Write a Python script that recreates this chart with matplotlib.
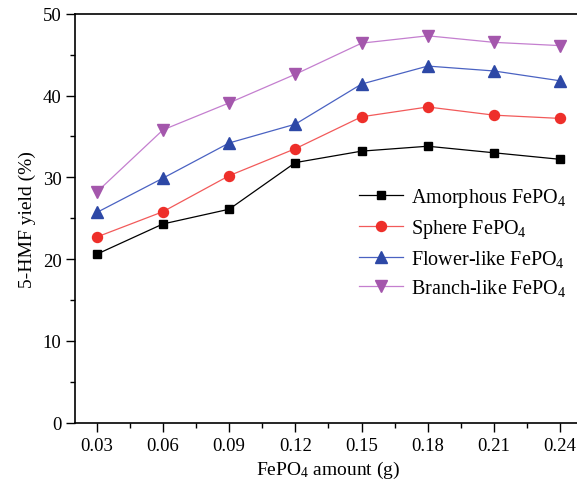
import numpy as np
import matplotlib.pyplot as plt
from matplotlib.ticker import MultipleLocator

# data
amount = [0.03, 0.06, 0.09, 0.12, 0.15, 0.18, 0.21, 0.24]
amorphous = [20.6, 24.3, 26.1, 31.8, 33.2, 33.8, 33.0, 32.2]
sphere = [22.7, 25.8, 30.2, 33.5, 37.4, 38.6, 37.6, 37.2]
flower = [25.7, 29.9, 34.2, 36.5, 41.4, 43.6, 43.0, 41.8]
branch = [28.2, 35.8, 39.1, 42.6, 46.4, 47.3, 46.5, 46.1]
labels = ['Amorphous FePO$_4$', 'Sphere FePO$_4$', 'Flower-like FePO$_4$', 'Branch-like FePO$_4$']

plt.rcParams['font.family'] = 'Liberation Serif'
plt.rcParams['mathtext.fontset'] = 'custom'
plt.rcParams['mathtext.rm'] = 'Liberation Serif'
plt.rcParams['mathtext.it'] = 'Liberation Serif:italic'
plt.rcParams['font.size'] = 14

fig = plt.figure(figsize=(5.77, 4.81), dpi=100)
ax = fig.add_axes([0.1295, 0.1191, 0.8795, 0.8503])

ax.plot(amount, amorphous, color='black', linewidth=0.9, marker='s', markersize=6.3,
        markerfacecolor='black', markeredgecolor='black', label=labels[0])
ax.plot(amount, sphere, color='#f25a5a', linewidth=0.9, marker='o', markersize=7.2,
        markerfacecolor='#ee2f2a', markeredgecolor='#ee2f2a', label=labels[1])
ax.plot(amount, flower, color='#4a62c2', linewidth=0.9, marker='^', markersize=8,
        markerfacecolor='#2d48a6', markeredgecolor='#2d48a6', label=labels[2])
ax.plot(amount, branch, color='#c47fcf', linewidth=0.9, marker='v', markersize=8,
        markerfacecolor='#a457ac', markeredgecolor='#a457ac', label=labels[3])

ax.set_xlim(0.02, 0.25)
ax.set_ylim(0, 50)
ax.set_xticks(amount)
ax.set_xticklabels(['%.2f' % a for a in amount])
ax.xaxis.set_minor_locator(MultipleLocator(0.015))
ax.yaxis.set_major_locator(MultipleLocator(10))
ax.yaxis.set_minor_locator(MultipleLocator(5))
ax.tick_params(which='major', direction='out', length=6.5, width=1.0, labelsize=13.5)
ax.tick_params(which='minor', direction='out', length=3.6, width=1.0)
ax.tick_params(axis='x', pad=3.5)
ax.tick_params(axis='y', pad=3)
for s in ax.spines.values():
    s.set_linewidth(1.2)

ax.set_xlabel('FePO$_4$ amount (g)', fontsize=14)
ax.xaxis.set_label_coords(0.5, -0.088)
ax.set_ylabel('5-HMF yield (%)', fontsize=14, labelpad=5)

ax.legend(loc='upper left', bbox_to_anchor=(0.56, 0.578), frameon=False,
          fontsize=14.5, handlelength=2.2, handletextpad=0.38, labelspacing=0.4,
          borderaxespad=0, borderpad=0)

fig.savefig('out.png', dpi=100)
